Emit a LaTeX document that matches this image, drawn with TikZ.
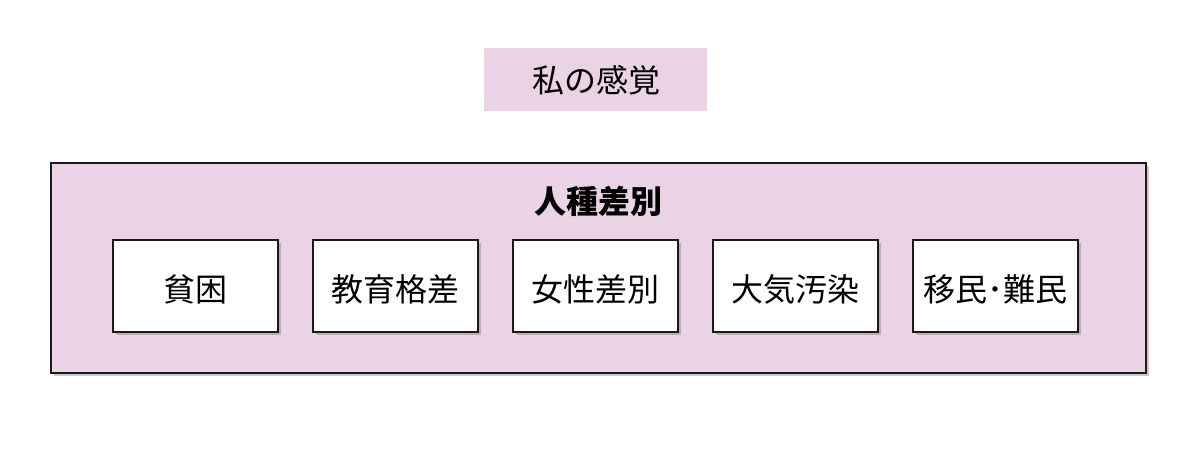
\documentclass[tikz,border=0pt]{standalone}
\usepackage{fontspec}
\newfontfamily\jp{Noto Sans CJK JP}
\usetikzlibrary{shadows}
\definecolor{pinkfill}{HTML}{EBD3E6}
\definecolor{edge}{HTML}{1A1A1A}
\begin{document}
\begin{tikzpicture}[x=0.75pt,y=-0.75pt,
  outerbox/.style={draw=edge,line width=1.1pt,fill=pinkfill,
    drop shadow={shadow xshift=2.2pt,shadow yshift=-2.2pt,opacity=0.35,fill=black!60}},
  itembox/.style={draw=edge,line width=1.1pt,fill=white,
    drop shadow={shadow xshift=2.2pt,shadow yshift=-2.2pt,opacity=0.35,fill=black!60}},
  lbl/.style={font=\jp\fontsize{24}{27}\selectfont,text=black,inner sep=0pt}]
\useasboundingbox (0,0) rectangle (1200,473);
\fill[pinkfill] (484,48) rectangle (707,111);
\node[lbl] (top) at (596,80) {私の感覚};
\path[outerbox] (51,163) rectangle (1146,373);
\node[lbl,font=\jp\bfseries\fontsize{24}{27}\selectfont] (title) at (598,201) {人種差別};
\foreach \x/\t/\n in {113/貧困/a,313/教育格差/b,513/女性差別/c,713/大気汚染/d,913/移民･難民/e}{
  \path[itembox] (\x,240) rectangle ++(165,92);
  \node[lbl] (\n) at (\x+82.5,289) {\t};
}
\end{tikzpicture}
\end{document}
